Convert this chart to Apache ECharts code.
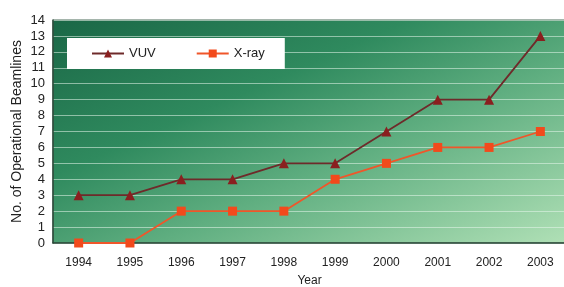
<!DOCTYPE html>
<html><head><meta charset="utf-8">
<script src="https://cdn.jsdelivr.net/npm/echarts@6/dist/echarts.min.js"></script>
<style>html,body{margin:0;padding:0;background:#fff}#c{width:564px;height:287px}</style>
</head><body><div id="c"></div>
<script>
const years = ['1994','1995','1996','1997','1998','1999','2000','2001','2002','2003'];
const vuv = [3,3,4,4,5,5,7,9,9,13];
const xray = [0,0,2,2,2,4,5,6,6,7];
const yTicks = [0,1,2,3,4,5,6,7,8,9,10,11,12,13,14];

const chart = echarts.init(document.getElementById('c'), null, {renderer:'canvas'});
const font = 'Liberation Sans, Arial, sans-serif';
chart.setOption({
  animation:false,
  grid:{left:53, right:-2, top:20, bottom:44, outerBoundsMode:'none', containLabel:false,
    show:true, borderWidth:1, borderColor:'#4a6a58',
    backgroundColor:{type:'linear',x:0,y:0,x2:0.32,y2:1.68,colorStops:[
      {offset:0,color:'#1a6746'},{offset:0.35,color:'#2f8a5e'},{offset:0.6,color:'#5fae80'},{offset:1,color:'#b0e0b6'}]}},
  legend:{left:67, top:38, backgroundColor:'#fff', borderWidth:0,
    padding:[9,20,9,24], itemGap:40, itemWidth:32, itemHeight:10,
    textStyle:{fontFamily:font, fontSize:13, color:'#222'},
    data:['VUV','X-ray']},
  xAxis:{type:'category', data:years, boundaryGap:true,
    name:'Year', nameLocation:'middle', nameGap:32, nameMoveOverlap:false,
    nameTextStyle:{fontFamily:font, fontSize:12, color:'#222'},
    axisLine:{lineStyle:{color:'#2d4a3a', width:1.5}},
    axisTick:{inside:true, length:4, lineStyle:{color:'#2d4a3a'}},
    axisLabel:{fontFamily:font, fontSize:12, color:'#222', margin:14}},
  yAxis:{type:'value', min:0, max:14, interval:1,
    name:'No. of Operational Beamlines', nameLocation:'middle', nameGap:29, nameMoveOverlap:false,
    nameTextStyle:{fontFamily:font, fontSize:14, color:'#222'},
    axisLine:{show:true, lineStyle:{color:'#2d4a3a', width:1.5}},
    axisTick:{show:false},
    axisLabel:{fontFamily:font, fontSize:13, color:'#222', margin:8,
      formatter:v=>yTicks.includes(v)?String(v):''},
    splitLine:{lineStyle:{color:'rgba(230,245,235,0.55)', width:1}}},
  series:[
    {name:'VUV', type:'line', data:vuv, symbol:'triangle', symbolSize:10,
      itemStyle:{color:'#8a1f1f'}, lineStyle:{color:'#6e2a2a', width:1.8}},
    {name:'X-ray', type:'line', data:xray, symbol:'rect', symbolSize:9,
      itemStyle:{color:'#f24a1c'}, lineStyle:{color:'#f0562a', width:1.8}}
  ]
});
</script></body></html>
